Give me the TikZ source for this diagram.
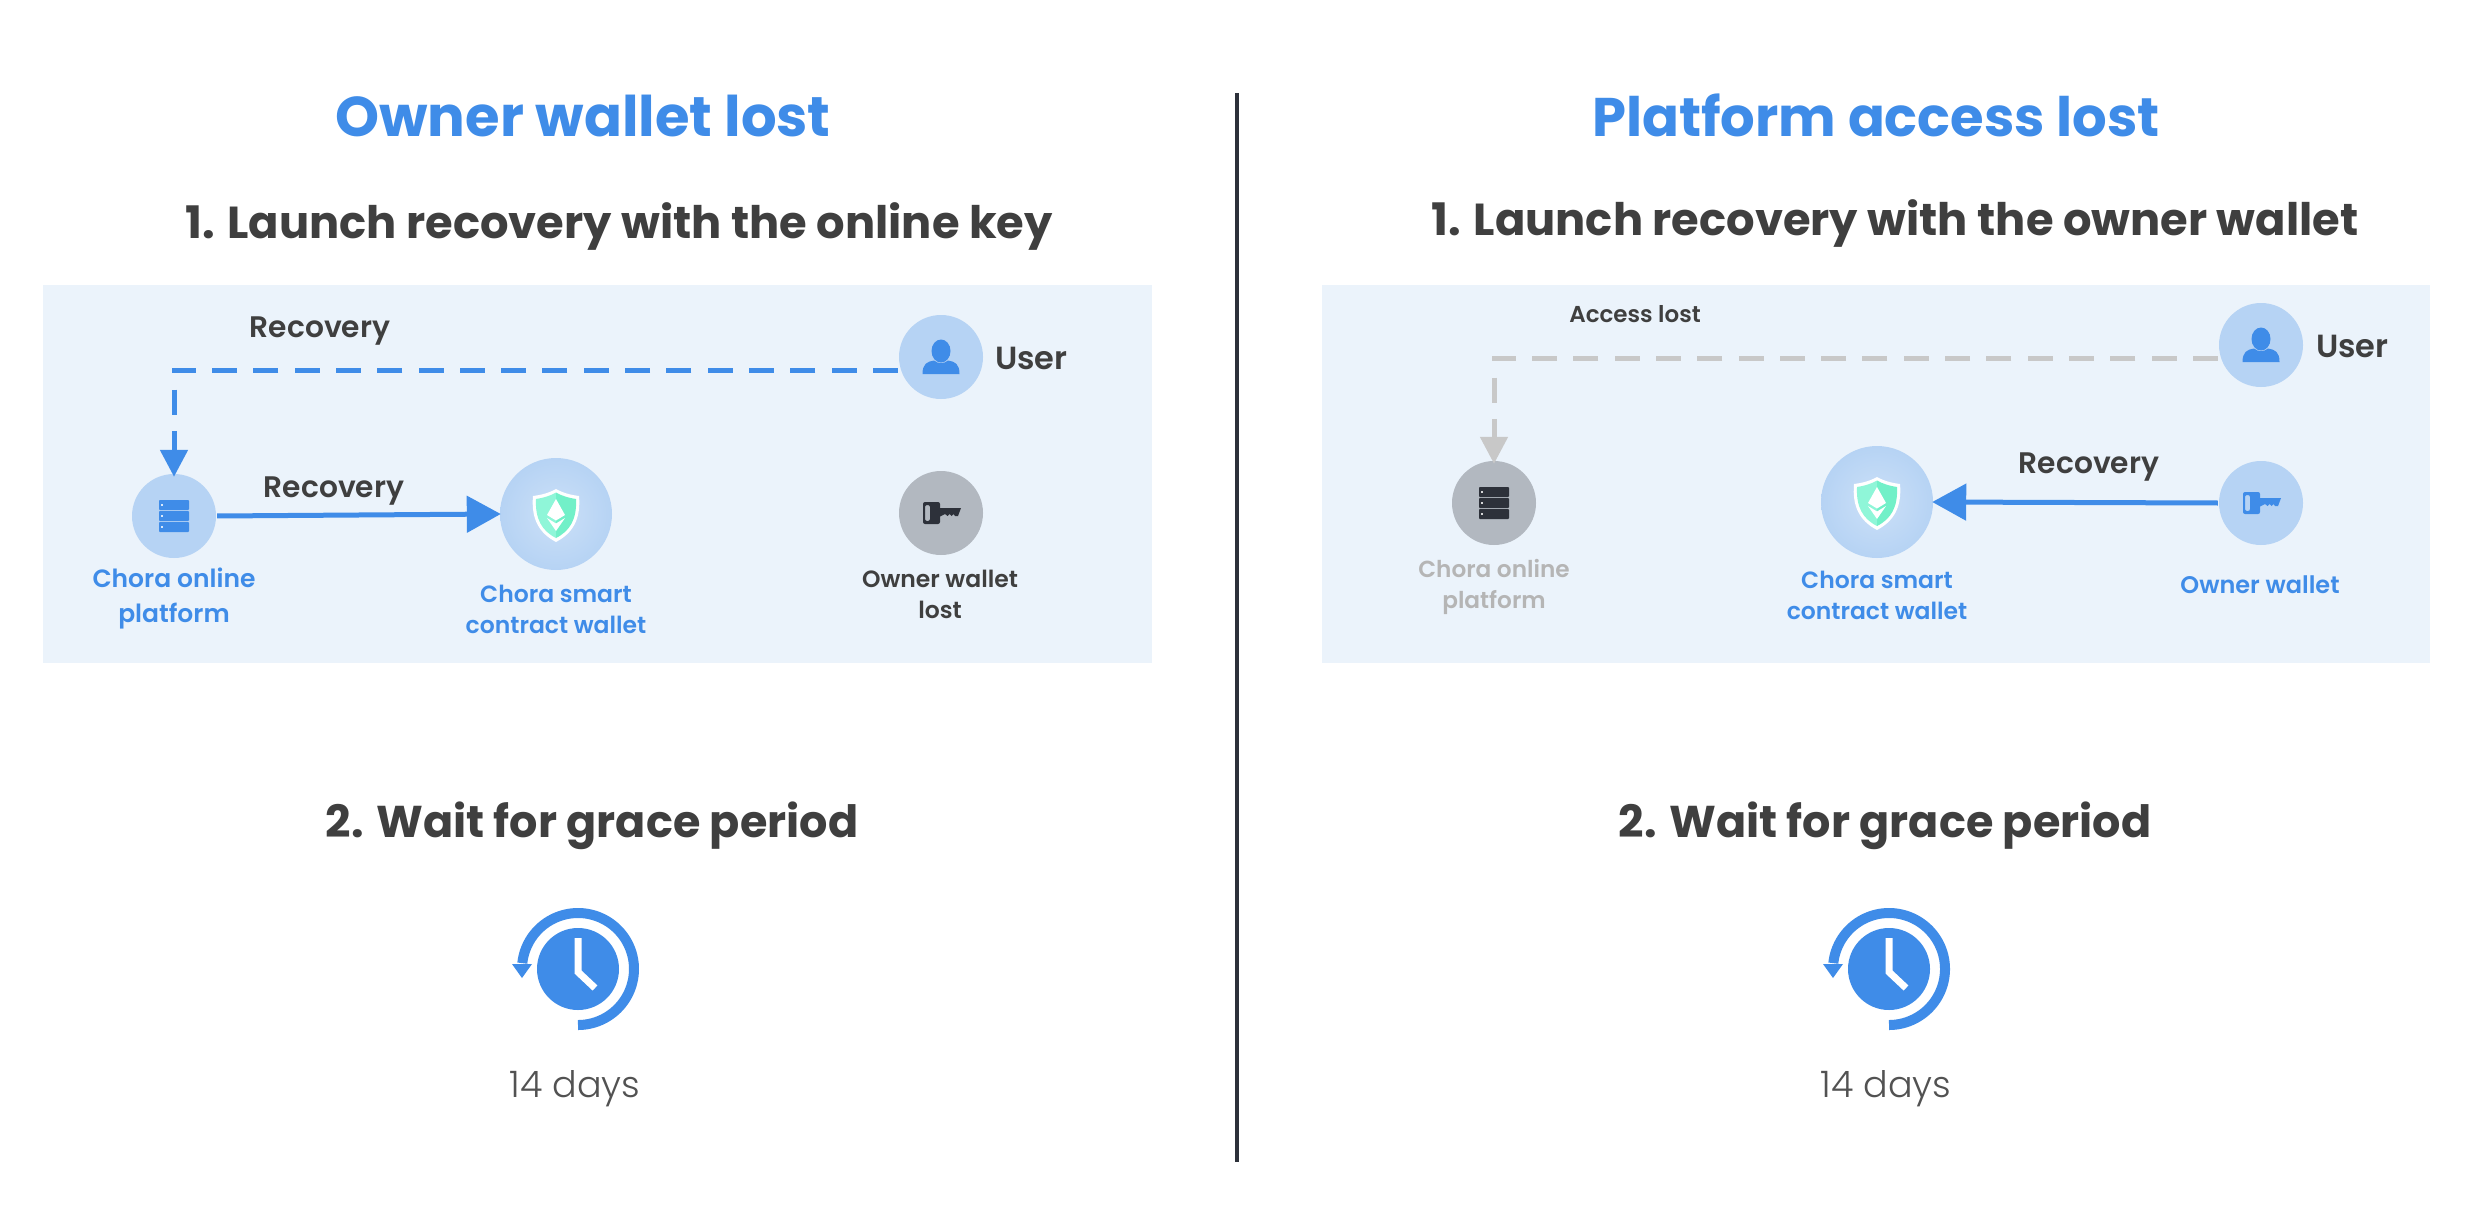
\documentclass[tikz,border=0pt]{standalone}
\usepackage{fontspec}
\usetikzlibrary{arrows.meta}
\setmainfont{Poppins}
\newfontfamily\fsemi{Poppins SemiBold}
\newfontfamily\fbold{Poppins}[UprightFont=* Bold]
\newfontfamily\flight{Poppins Light}
\definecolor{cblue}{HTML}{3F8CE8}
\definecolor{cpanel}{HTML}{EBF3FB}
\definecolor{ccirc}{HTML}{B6D3F4}
\definecolor{cgraycirc}{HTML}{B2B8C0}
\definecolor{cdark}{HTML}{2D313A}
\definecolor{ctext}{HTML}{3F3F3F}
\definecolor{cgrayline}{HTML}{C8C8C8}
\definecolor{cgraytext}{HTML}{B5B5B5}
\definecolor{cmintA}{HTML}{8FF6D8}
\definecolor{cmintB}{HTML}{72F0C8}
\tikzset{
  x=1pt,y=-1pt,
  panel/.style={fill=cpanel,draw=none},
  disc/.style={circle,inner sep=0pt,minimum size=84pt,fill=ccirc},
  graydisc/.style={disc,fill=cgraycirc},
  bigdisc/.style={circle,inner sep=0pt,minimum size=112pt,inner color=ccirc!70!white,outer color=ccirc},
  title/.style={text=cblue,anchor=base,inner sep=0pt,font={\fbold\fontsize{56}{60}\selectfont}},
  head/.style={text=ctext,anchor=base,inner sep=0pt,font={\fbold\fontsize{44.8}{50}\selectfont}},
  headb/.style={head,font={\fbold\fontsize{44.5}{50}\selectfont}},
  edgelabel/.style={text=ctext,anchor=base,inner sep=0pt,font={\fsemi\fontsize{29.7}{34}\selectfont}},
  smalllabel/.style={text=ctext,anchor=base,inner sep=0pt,font={\fsemi\fontsize{23}{28}\selectfont}},
  userlabel/.style={text=ctext,anchor=base west,inner sep=0pt,font={\fsemi\fontsize{32}{36}\selectfont}},
  namelabel/.style={text=cblue,anchor=base,align=center,inner sep=0pt,font={\fsemi\fontsize{25}{31}\selectfont}},
  smartlabel/.style={namelabel,font={\fsemi\fontsize{23.5}{31}\selectfont}},
  darklabel/.style={smartlabel,text=ctext},
  greylabel/.style={namelabel,text=cgraytext,font={\fsemi\fontsize{23.2}{31}\selectfont}},
  dayslabel/.style={text=ctext!90!white,anchor=base,inner sep=0pt,font={\flight\fontsize{36.5}{42}\selectfont}},
  dashline/.style={draw=#1,line width=5pt,dash pattern=on 25pt off 16.3pt,-{Triangle[length=27pt,width=27pt]}},
  solidline/.style={draw=cblue,line width=5pt,-{Triangle[length=34pt,width=36pt]}},
  pics/servericon/.style={code={
    \foreach \yy in {-16,-5,6}{
      \fill[#1,rounded corners=0.8pt] (-15,\yy) rectangle (15,\yy+10);
      \fill[white!80!#1] (-13,\yy+4) rectangle (-11.5,\yy+6);
    }}},
  pics/usericon/.style={code={
    \fill[cblue] (-18.5,17) .. controls (-18.5,7) and (-14,4.5) .. (-7,3.5)
       .. controls (-3,7) and (3,7) .. (7,3.5)
       .. controls (14,4.5) and (18.5,7) .. (18.5,17) -- cycle;
    \fill[cblue] (0,-6) ellipse [x radius=9.5pt,y radius=11.5pt];
  }},
  pics/keyicon/.style={code={
    \fill[#1,rounded corners=2pt,even odd rule] (-18,-11) rectangle (-1,11)
      (-16,-8) rectangle (-11,8);
    \fill[#1] (-2,-5) -- (20,-5) -- (17,3) -- (14,3) -- (12.5,1) -- (10.5,3) -- (8.5,1) -- (6.5,3) -- (4,1) -- (-2,4) -- cycle;
  }},
  pics/shieldicon/.style={code={
    \fill[white] (0,-25) .. controls (7,-21) and (15,-19) .. (23,-18)
       .. controls (25,5) and (17,19) .. (0,28)
       .. controls (-17,19) and (-25,5) .. (-23,-18)
       .. controls (-15,-19) and (-7,-21) .. (0,-25) -- cycle;
    \fill[cmintA] (0,-21.5) .. controls (-6,-18) and (-13,-16) .. (-20,-15)
       .. controls (-21,5) and (-14,17) .. (0,24) -- cycle;
    \fill[cmintB] (0,-21.5) .. controls (6,-18) and (13,-16) .. (20,-15)
       .. controls (21,5) and (14,17) .. (0,24) -- cycle;
    \fill[white] (0,-15) -- (9,1) -- (0,6.5) -- (-9,1) -- cycle;
    \fill[white] (-9,4) -- (0,9.5) -- (9,4) -- (0,17) -- cycle;
  }},
  pics/clockicon/.style={code={
    \fill[cblue] (0,0) circle [radius=41pt];
    \draw[white,line width=7pt] (0,-31) -- (0,3) -- (17,19);
    \draw[cblue,line width=10pt] plot[domain=90:-174,samples=90,smooth] ({56*cos(\x)},{56*sin(\x)});
    \fill[cblue] (-66,-5) -- (-46,-5) -- (-56,9) -- cycle;
  }},
}
\begin{document}
\begin{tikzpicture}
\useasboundingbox (0,0) rectangle (2483,1223);
\fill[white] (0,0) rectangle (2483,1223);
\fill[panel] (43,285) rectangle (1152,663);
\fill[panel] (1322,285) rectangle (2430,663);
\coordinate (divtop) at (1237,93);
\coordinate (divbot) at (1237,1162);
\draw[cdark,line width=3.5pt] (divtop) -- (divbot);

\node[title] (t1) at (583,136) {Owner wallet lost};
\node[title,font={\fbold\fontsize{54.4}{60}\selectfont}] (t2) at (1876,136) {Platform access lost};
\node[head] (h1) at (619,238) {1. Launch recovery with the online key};
\node[head] (h2) at (1895,235) {1. Launch recovery with the owner wallet};
\node[headb] (h3) at (592,837) {2. Wait for grace period};
\node[headb] (h4) at (1885,837) {2. Wait for grace period};

% left panel
\node[disc] (platL) at (174,516) {};
\node[bigdisc] (smartL) at (556,514) {};
\node[disc] (userL) at (941,357) {};
\node[graydisc] (ownL) at (941,513) {};
\pic at (platL) {servericon=cblue};
\pic at (smartL) {shieldicon};
\pic at (userL) {usericon};
\pic at (ownL) {keyicon=cdark};
\draw[dashline=cblue,shorten >=-3pt] ([xshift=-3pt]userL.198) -| (platL.north);
\draw[solidline,shorten <=1pt,shorten >=-1pt] (platL.east) -- (smartL.west);
\node[edgelabel] (rL1) at (320,337) {Recovery};
\node[edgelabel] (rL2) at (334,497) {Recovery};
\node[namelabel] (nL1) at (174,622) {Chora online\\[4pt]platform};
\node[smartlabel] (nL2) at (556,633) {Chora smart\\contract wallet};
\node[darklabel] (nL3) at (940,618) {Owner wallet\\lost};
\node[userlabel] (uL) at (995,369) {User};

% right panel
\node[graydisc] (platR) at (1494,503) {};
\node[bigdisc] (smartR) at (1877,502) {};
\node[disc] (userR) at (2261,345) {};
\node[disc] (ownR) at (2261,503) {};
\pic at (platR) {servericon=cdark};
\pic at (smartR) {shieldicon};
\pic at (userR) {usericon};
\pic at (ownR) {keyicon=cblue};
\draw[dashline=cgrayline,shorten >=-3pt] ([xshift=-3pt]userR.198) -| (platR.north);
\draw[solidline,shorten <=1pt,shorten >=-1pt] (ownR.west) -- (smartR.east);
\node[smalllabel] (rR0) at (1635,322) {Access lost};
\node[edgelabel] (rR1) at (2089,473) {Recovery};
\node[greylabel] (nR1) at (1494,608) {Chora online\\platform};
\node[smartlabel] (nR2) at (1877,619) {Chora smart\\contract wallet};
\node[namelabel,font={\fsemi\fontsize{24}{31}\selectfont}] (nR3) at (2260,593) {Owner wallet};
\node[userlabel] (uR) at (2316,357) {User};

% clocks
\pic at (578,969) {clockicon};
\pic at (1889,969) {clockicon};
\node[dayslabel] (d1) at (575,1097) {14 days};
\node[dayslabel] (d2) at (1886,1097) {14 days};
\end{tikzpicture}
\end{document}
